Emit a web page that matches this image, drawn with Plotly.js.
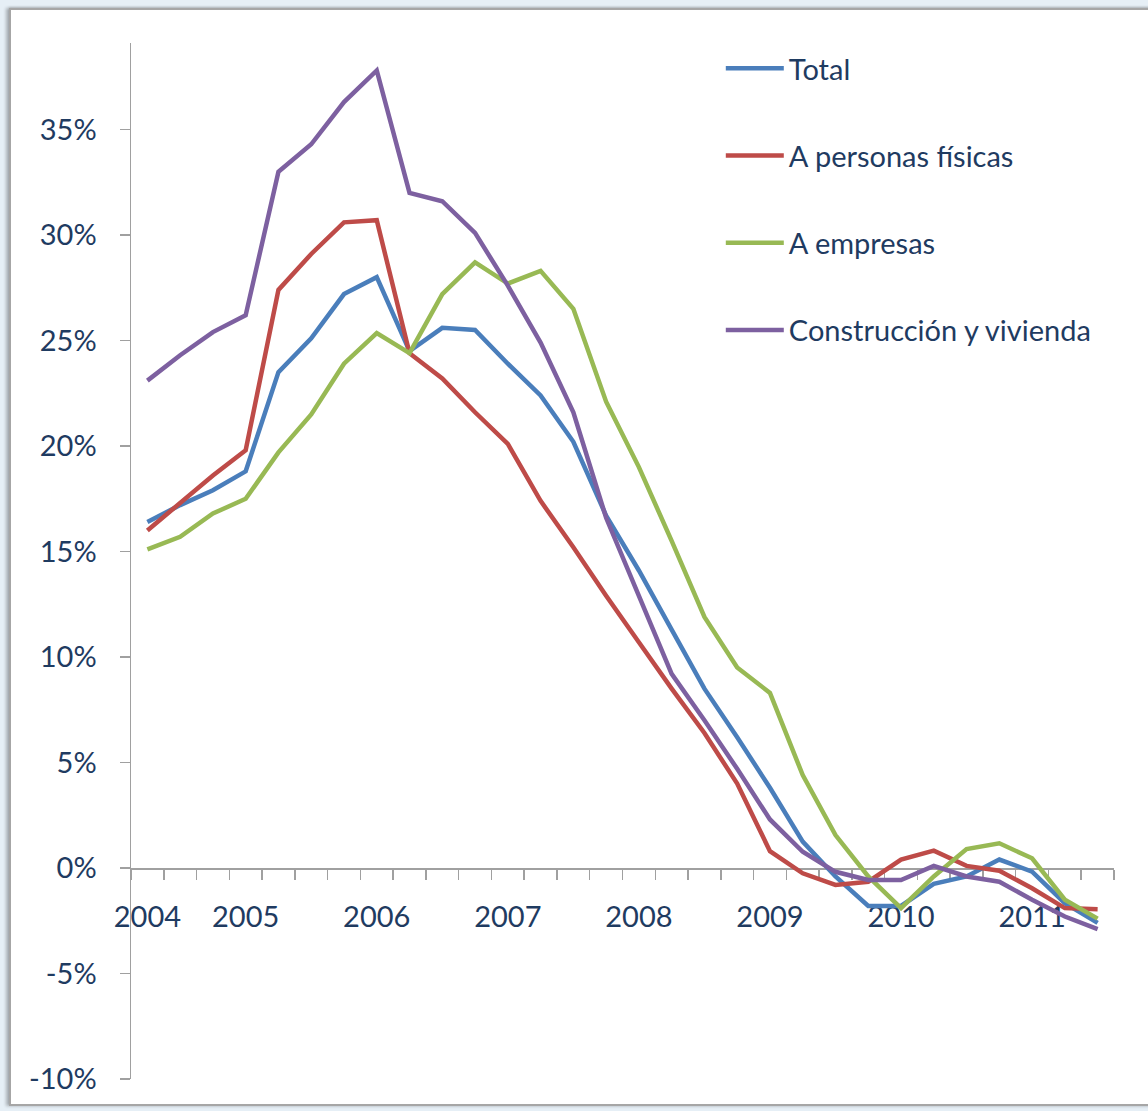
<!DOCTYPE html>
<html>
<head>
<meta charset="utf-8">
<script src="https://cdn.plot.ly/plotly-3.0.1.min.js"></script>
<style>
  html, body { margin: 0; padding: 0; background: #ffffff; }
  #wrap { position: relative; width: 1148px; height: 1111px; overflow: hidden; background: #e6eff6; }
  #frame { position: absolute; left: 9px; top: 8px; width: 1160px; height: 1094px; background: #ffffff;
           border: 2px solid #a6a6a6; box-shadow: -3px 0 3px rgba(0,0,0,0.25), 0 -1px 2px rgba(0,0,0,0.15); }
  #chart { position: absolute; left: 0; top: 0; width: 1148px; height: 1111px; }
</style>
</head>
<body>
<div id="wrap">
  <div id="frame"></div>
  <div id="chart"></div>
</div>
<script>
// Quarterly periods (30 observations)
const periods = [
  '2004T1','2004T2','2004T3','2004T4',
  '2005T1','2005T2','2005T3','2005T4',
  '2006T1','2006T2','2006T3','2006T4',
  '2007T1','2007T2','2007T3','2007T4',
  '2008T1','2008T2','2008T3','2008T4',
  '2009T1','2009T2','2009T3','2009T4',
  '2010T1','2010T2','2010T3','2010T4',
  '2011T1','2011T2'
];

// Series values (% year-on-year growth)
const total = [16.4, 17.2, 17.9, 18.8, 23.5, 25.1, 27.2, 28.0, 24.5, 25.6,
               25.5, 23.9, 22.4, 20.2, 16.7, 14.1, 11.3, 8.5, 6.2, 3.8,
               1.25, -0.4, -1.8, -1.8, -0.75, -0.4, 0.4, -0.17, -1.67, -2.6];
const personasFisicas = [16.0, 17.3, 18.6, 19.8, 27.4, 29.1, 30.6, 30.7, 24.4, 23.2,
               21.6, 20.1, 17.4, 15.2, 12.9, 10.7, 8.5, 6.4, 4.0, 0.8,
               -0.25, -0.8, -0.65, 0.4, 0.82, 0.1, -0.13, -0.96, -1.9, -1.95];
const empresas = [15.1, 15.7, 16.8, 17.5, 19.7, 21.5, 23.9, 25.35, 24.4, 27.2,
               28.7, 27.7, 28.3, 26.5, 22.1, 19.0, 15.5, 11.9, 9.5, 8.3,
               4.4, 1.56, -0.4, -1.9, -0.4, 0.9, 1.17, 0.46, -1.5, -2.4];
const construccion = [23.1, 24.3, 25.4, 26.2, 33.0, 34.3, 36.3, 37.8, 32.0, 31.6,
               30.1, 27.6, 24.9, 21.6, 16.6, 12.9, 9.2, 7.0, 4.7, 2.3,
               0.77, -0.18, -0.57, -0.57, 0.1, -0.4, -0.65, -1.5, -2.3, -2.9];

// Tick labels
const yearTickPeriods = ['2004T1','2004T4','2005T4','2006T4','2007T4','2008T4','2009T4','2010T4'];
const yearTickText = ['2004','2005','2006','2007','2008','2009','2010','2011'];
const yTickVals = [-10, -5, 0, 5, 10, 15, 20, 25, 30, 35];
const yTickText = ['-10%','-5%','0%','5%','10%','15%','20%','25%','30%','35%'];

const seriesNames = ['Total', 'A personas físicas', 'A empresas', 'Construcción y vivienda'];
const seriesColors = ['#4a7ebb', '#be4b48', '#98b954', '#7d60a0'];
const seriesData = [total, personasFisicas, empresas, construccion];

const xIdx = periods.map((p, i) => i);
const traces = seriesData.map((vals, i) => ({
  type: 'scatter', mode: 'lines',
  x: xIdx, y: vals, name: seriesNames[i],
  text: periods, legendgroup: 'g' + i,
  line: { color: seriesColors[i], width: 4.5 },
  hovertemplate: '%{text}: %{y:.1f}%<extra>' + seriesNames[i] + '</extra>'
}));

const FONT = 'Lato, Carlito, Calibri, sans-serif';
const TXT = '#1f3b61';
const AX = '#a0a0a0';
const yMin = -10, yMax = 39.1;

const layout = {
  width: 1148, height: 1111,
  margin: { l: 131, r: 34, t: 43, b: 32 },
  paper_bgcolor: 'rgba(0,0,0,0)', plot_bgcolor: 'rgba(0,0,0,0)',
  font: { family: FONT, size: 29, color: TXT },
  showlegend: true,
  legend: {
    x: 0.60, y: 1.0, xanchor: 'left', yanchor: 'top',
    bgcolor: 'rgba(0,0,0,0)', borderwidth: 0,
    font: { family: FONT, size: 29, color: TXT },
    traceorder: 'grouped', tracegroupgap: 46.5, itemwidth: 58
  },
  xaxis: {
    range: [-0.5, periods.length - 0.5],
    anchor: 'free', position: (0 - yMin) / (yMax - yMin),
    showgrid: false, zeroline: false,
    showline: true, linecolor: AX, linewidth: 1.5,
    tickmode: 'array',
    tickvals: yearTickPeriods.map(p => periods.indexOf(p)),
    ticktext: yearTickText,
    ticks: 'outside', ticklen: 0, tickcolor: AX,
    ticklabelstandoff: 23,
    minor: { ticks: 'outside', ticklen: 10, tickwidth: 1.5, tickcolor: AX, tick0: -0.5, dtick: 1, showgrid: false },
    tickfont: { family: FONT, size: 29, color: TXT },
    layer: 'below traces',
    fixedrange: true
  },
  yaxis: {
    range: [yMin, yMax],
    showgrid: false, zeroline: false,
    showline: true, linecolor: AX, linewidth: 1.5,
    tickmode: 'array', tickvals: yTickVals, ticktext: yTickText,
    ticks: 'outside', ticklen: 10, tickwidth: 1.5, tickcolor: AX,
    ticklabelstandoff: 17,
    tickfont: { family: FONT, size: 29, color: TXT },
    fixedrange: true
  }
};

Plotly.newPlot('chart', traces, layout, { displayModeBar: false, staticPlot: true });
</script>
</body>
</html>
